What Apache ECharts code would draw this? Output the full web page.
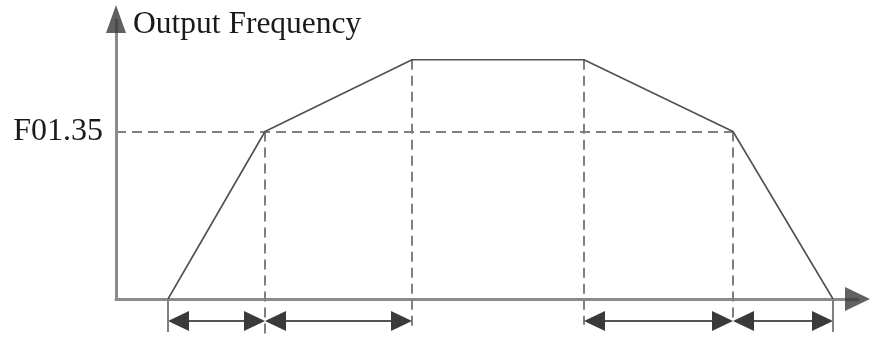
<!DOCTYPE html>
<html><head><meta charset="utf-8">
<script src="https://cdn.jsdelivr.net/npm/echarts@6/dist/echarts.min.js"></script>
<style>html,body{margin:0;padding:0;background:#fff}#c{width:872px;height:338px}</style>
</head><body><div id="c"></div>
<script>
// ---- data ----
const timePoints = [0.52, 1.49, 2.96, 4.68, 6.17, 7.17];
const freqValues = [0, 35, 50, 50, 35, 0];
const refFreq = 35;
const refLabel = 'F01.35';
const yAxisTitle = 'Output Frequency';
const xRange = [0, 7.415];
const yRange = [-8.15, 58.5];
// guide lines below the axis (lower end, in frequency units)
const guideBottoms = [-8.15, -5.85, -5.4, -4.8];
const tickBottom = -6.9;
// dimension arrows: [start, end]
const intervals = [[0.52, 1.49], [1.49, 2.96], [4.68, 6.17], [6.17, 7.17]];
const arrowLevel = -4.6;

const FONT = 'Liberation Serif';
const GUIDE = { color: '#808080', width: 2, type: [10, 6] };

const guideLines = [];
guideLines.push([{ coord: [xRange[0], refFreq] }, { coord: [timePoints[4], refFreq] }]);
for (let i = 1; i <= 4; i++) {
  guideLines.push([{ coord: [timePoints[i], freqValues[i]] }, { coord: [timePoints[i], guideBottoms[i - 1]] }]);
}
const solidLines = [
  [{ coord: [xRange[0], 0] }, { coord: [xRange[0], yRange[1]] }]
];
const tickLines = [
  [{ coord: [timePoints[0], 0] }, { coord: [timePoints[0], tickBottom] }],
  [{ coord: [timePoints[5], 0] }, { coord: [timePoints[5], tickBottom] }]
];

const chart = echarts.init(document.getElementById('c'), null, { renderer: 'canvas' });
chart.setOption({
  animation: false,
  backgroundColor: '#fff',
  grid: { left: 116, right: 14.5, top: 19, bottom: 0, containLabel: false },
  xAxis: {
    type: 'value', min: xRange[0], max: xRange[1],
    axisLine: { show: true, onZero: true, lineStyle: { color: '#8a8a8a', width: 3 } },
    axisTick: { show: false }, axisLabel: { show: false }, splitLine: { show: false }
  },
  yAxis: {
    type: 'value', min: yRange[0], max: yRange[1],
    name: yAxisTitle, nameLocation: 'end', nameGap: -6,
    nameTextStyle: { fontFamily: FONT, fontSize: 31.5, color: '#1a1a1a', align: 'left', verticalAlign: 'middle', padding: [0, 0, 0, 17] },
    axisLine: { show: false },
    axisTick: { show: false },
    splitLine: { show: false },
    axisLabel: {
      show: true, customValues: [refFreq], margin: 13,
      formatter: () => refLabel,
      fontFamily: FONT, fontSize: 32, color: '#1a1a1a'
    }
  },
  series: [
    {
      type: 'line', silent: true, symbol: 'none', z: 3,
      data: timePoints.map((t, i) => [t, freqValues[i]]),
      lineStyle: { color: '#505050', width: 1.6 },
      markLine: {
        silent: true, symbol: ['none', 'none'], label: { show: false },
        lineStyle: GUIDE, data: guideLines, z: 1
      }
    },
    {
      type: 'line', silent: true, symbol: 'none', data: [],
      markLine: {
        silent: true, symbol: ['none', 'none'], label: { show: false },
        lineStyle: { color: '#8a8a8a', width: 3, type: 'solid' }, data: solidLines
      }
    },
    {
      type: 'line', silent: true, symbol: 'none', data: [],
      markLine: {
        silent: true, symbol: ['none', 'none'], label: { show: false },
        lineStyle: { color: '#808080', width: 2, type: 'solid' }, data: tickLines
      }
    },
    {
      type: 'scatter', silent: true, clip: false, z: 5,
      symbol: 'triangle',
      data: [
        { value: [xRange[1], 0], symbolRotate: -90, symbolSize: [24, 25] },
        { value: [xRange[0], yRange[1]], symbolRotate: 0, symbolSize: [20, 28] }
      ],
      itemStyle: { color: '#3a3a3a' }
    },
    {
      type: 'custom', silent: true, z: 4,
      data: intervals.map(d => [d[0], d[1], arrowLevel]),
      encode: { x: [0, 1], y: 2 },
      renderItem: function (params, api) {
        const a = api.coord([api.value(0), api.value(2)]);
        const b = api.coord([api.value(1), api.value(2)]);
        const L = 21, H = 10;
        const col = '#3a3a3a';
        return {
          type: 'group',
          children: [
            { type: 'line', shape: { x1: a[0] + L, y1: a[1], x2: b[0] - L, y2: b[1] }, style: { stroke: '#555', lineWidth: 1.8 } },
            { type: 'polygon', shape: { points: [[a[0], a[1]], [a[0] + L, a[1] - H], [a[0] + L, a[1] + H]] }, style: { fill: col } },
            { type: 'polygon', shape: { points: [[b[0], b[1]], [b[0] - L, b[1] - H], [b[0] - L, b[1] + H]] }, style: { fill: col } }
          ]
        };
      }
    }
  ]
});
</script>
</body></html>
